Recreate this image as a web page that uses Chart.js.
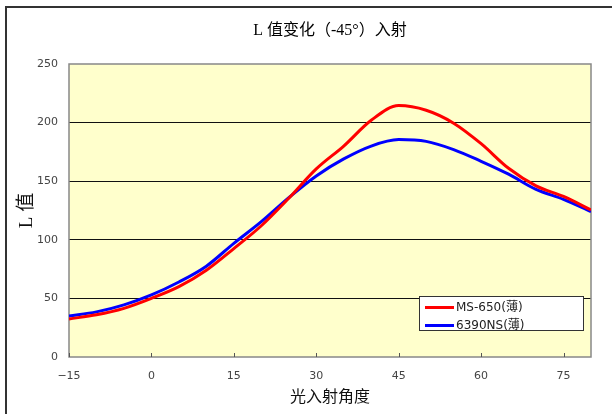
<!DOCTYPE html>
<html>
<head>
<meta charset="utf-8">
<script src="https://cdn.jsdelivr.net/npm/chart.js@4/dist/chart.umd.min.js"></script>
<style>
  html, body { margin: 0; padding: 0; background: #fff; }
  #wrap { position: relative; width: 612px; height: 414px; overflow: hidden; }
  #frame { position: absolute; left: 5px; top: 6px; width: 700px; height: 500px;
           border: 2px solid #333; pointer-events: none; }
  #legend { position: absolute; left: 419px; top: 296px; width: 165px; height: 35px;
            background: #fff; border: 1px solid #333; box-sizing: border-box;
            font: 12px "DejaVu Sans", "Noto Sans CJK SC", sans-serif; color: #222; }
  #legend .row { position: absolute; left: 5px; height: 16px; line-height: 16px; white-space: nowrap; }
  #legend .sw { display: inline-block; width: 29px; height: 3px; vertical-align: middle; margin-right: 2px; }
</style>
</head>
<body>
<div id="wrap">
  <canvas id="chart" width="612" height="414"></canvas>
  <div id="frame"></div>
  <div id="legend"></div>
</div>
<script>
// incidence angle (deg)
const angles = [-15, -10, -5, 0, 5, 10, 15, 20, 25, 30, 35, 40, 45, 50, 55, 60, 65, 70, 75, 80];
// MS-650(薄)
const msValues = [32.5, 36, 41.5, 50, 60, 74, 92.5, 112, 135.5, 160.5, 180, 202, 214.5, 210.5, 199.5, 182, 161, 146, 137, 125.5];
// 6390NS(薄)
const nsValues = [35, 38.5, 44.5, 53, 64, 77.5, 97, 115.5, 136, 154.5, 169, 180, 185.5, 184, 177, 167, 156, 143, 134.5, 124];

const seriesNames = ['MS-650(薄)', '6390NS(薄)'];
const seriesColors = ['#ff0000', '#0000ff'];
const yTicks = [0, 50, 100, 150, 200, 250];
const chartTitle = 'L 值变化（-45°）入射';

function toPoints(vals) {
    return angles.map(function (a, i) { return { x: a, y: vals[i] }; });
}

// yellow plot background, gray border, inward x ticks, title centred on the plot
const plotDecor = {
    id: 'plotDecor',
    beforeDraw: function (chart) {
        const a = chart.chartArea;
        const ctx = chart.ctx;
        ctx.save();
        ctx.fillStyle = '#ffffcc';
        ctx.fillRect(a.left, a.top, a.right - a.left, a.bottom - a.top);
        ctx.restore();
    },
    beforeDatasetsDraw: function (chart) {
        const a = chart.chartArea;
        const ctx = chart.ctx;
        const xs = chart.scales.x;
        ctx.save();
        ctx.strokeStyle = '#888';
        ctx.lineWidth = 1.5;
        ctx.strokeRect(a.left, a.top, a.right - a.left, a.bottom - a.top);
        ctx.strokeStyle = '#555';
        ctx.lineWidth = 1;
        xs.ticks.forEach(function (t) {
            const px = Math.round(xs.getPixelForValue(t.value)) + 0.5;
            ctx.beginPath();
            ctx.moveTo(px, a.bottom);
            ctx.lineTo(px, a.bottom - 4);
            ctx.stroke();
        });
        ctx.restore();
    },
    afterDraw: function (chart) {
        const a = chart.chartArea;
        const ctx = chart.ctx;
        ctx.save();
        ctx.fillStyle = '#000';
        ctx.font = '16px "Liberation Serif", "Noto Sans CJK SC", serif';
        ctx.textAlign = 'center';
        ctx.textBaseline = 'middle';
        ctx.fillText(chartTitle, (a.left + a.right) / 2, 31);
        ctx.restore();
    }
};

new Chart(document.getElementById('chart'), {
    type: 'line',
    data: {
        datasets: [
            { label: seriesNames[0], data: toPoints(msValues), borderColor: seriesColors[0], borderWidth: 3,
              pointRadius: 0, cubicInterpolationMode: 'monotone', fill: false },
            { label: seriesNames[1], data: toPoints(nsValues), borderColor: seriesColors[1], borderWidth: 3,
              pointRadius: 0, cubicInterpolationMode: 'monotone', fill: false }
        ]
    },
    options: {
        responsive: false,
        animation: false,
        layout: { padding: { left: 0, right: 21, top: 64, bottom: 0 } },
        plugins: {
            legend: { display: false },
            tooltip: { enabled: false },
            title: { display: false }
        },
        scales: {
            x: {
                type: 'linear',
                min: -15,
                max: 80,
                afterFit: function (s) { s.height = 57; },
                ticks: {
                    stepSize: 15,
                    includeBounds: false,
                    padding: 13,
                    color: '#444',
                    font: { family: '"DejaVu Sans", sans-serif', size: 11 },
                    callback: function (v) { return v < 0 ? '\u2212' + Math.abs(v) : v; }
                },
                grid: { display: true, drawOnChartArea: false, drawTicks: false },
                border: { display: false },
                title: {
                    display: true,
                    text: '光入射角度',
                    color: '#111',
                    font: { family: '"Noto Sans CJK SC", sans-serif', size: 16 },
                    padding: { top: 0, bottom: 8 }
                }
            },
            y: {
                min: 0,
                max: 250,
                afterFit: function (s) { s.width = 69; },
                afterBuildTicks: function (s) { s.ticks = yTicks.map(function (v) { return { value: v }; }); },
                ticks: {
                    padding: 11,
                    color: '#444',
                    font: { family: '"DejaVu Sans", sans-serif', size: 11 }
                },
                grid: {
                    drawTicks: false,
                    lineWidth: 1,
                    color: function (c) {
                        return (c.tick && (c.tick.value === 0 || c.tick.value === 250)) ? 'rgba(0,0,0,0)' : '#111';
                    }
                },
                border: { display: false },
                title: {
                    display: true,
                    text: 'L 值',
                    color: '#111',
                    font: { family: '"Liberation Serif", "Noto Sans CJK SC", serif', size: 19 },
                    padding: { top: 16, bottom: 0 }
                }
            }
        }
    },
    plugins: [plotDecor]
});

// legend box drawn as html so the text stays text
const legendEl = document.getElementById('legend');
seriesNames.forEach(function (name, i) {
    const row = document.createElement('div');
    row.className = 'row';
    row.style.top = (i === 0 ? 2 : 20) + 'px';
    row.innerHTML = '<span class="sw" style="background:' + seriesColors[i] + '"></span>' + name;
    legendEl.appendChild(row);
});
</script>
</body>
</html>
